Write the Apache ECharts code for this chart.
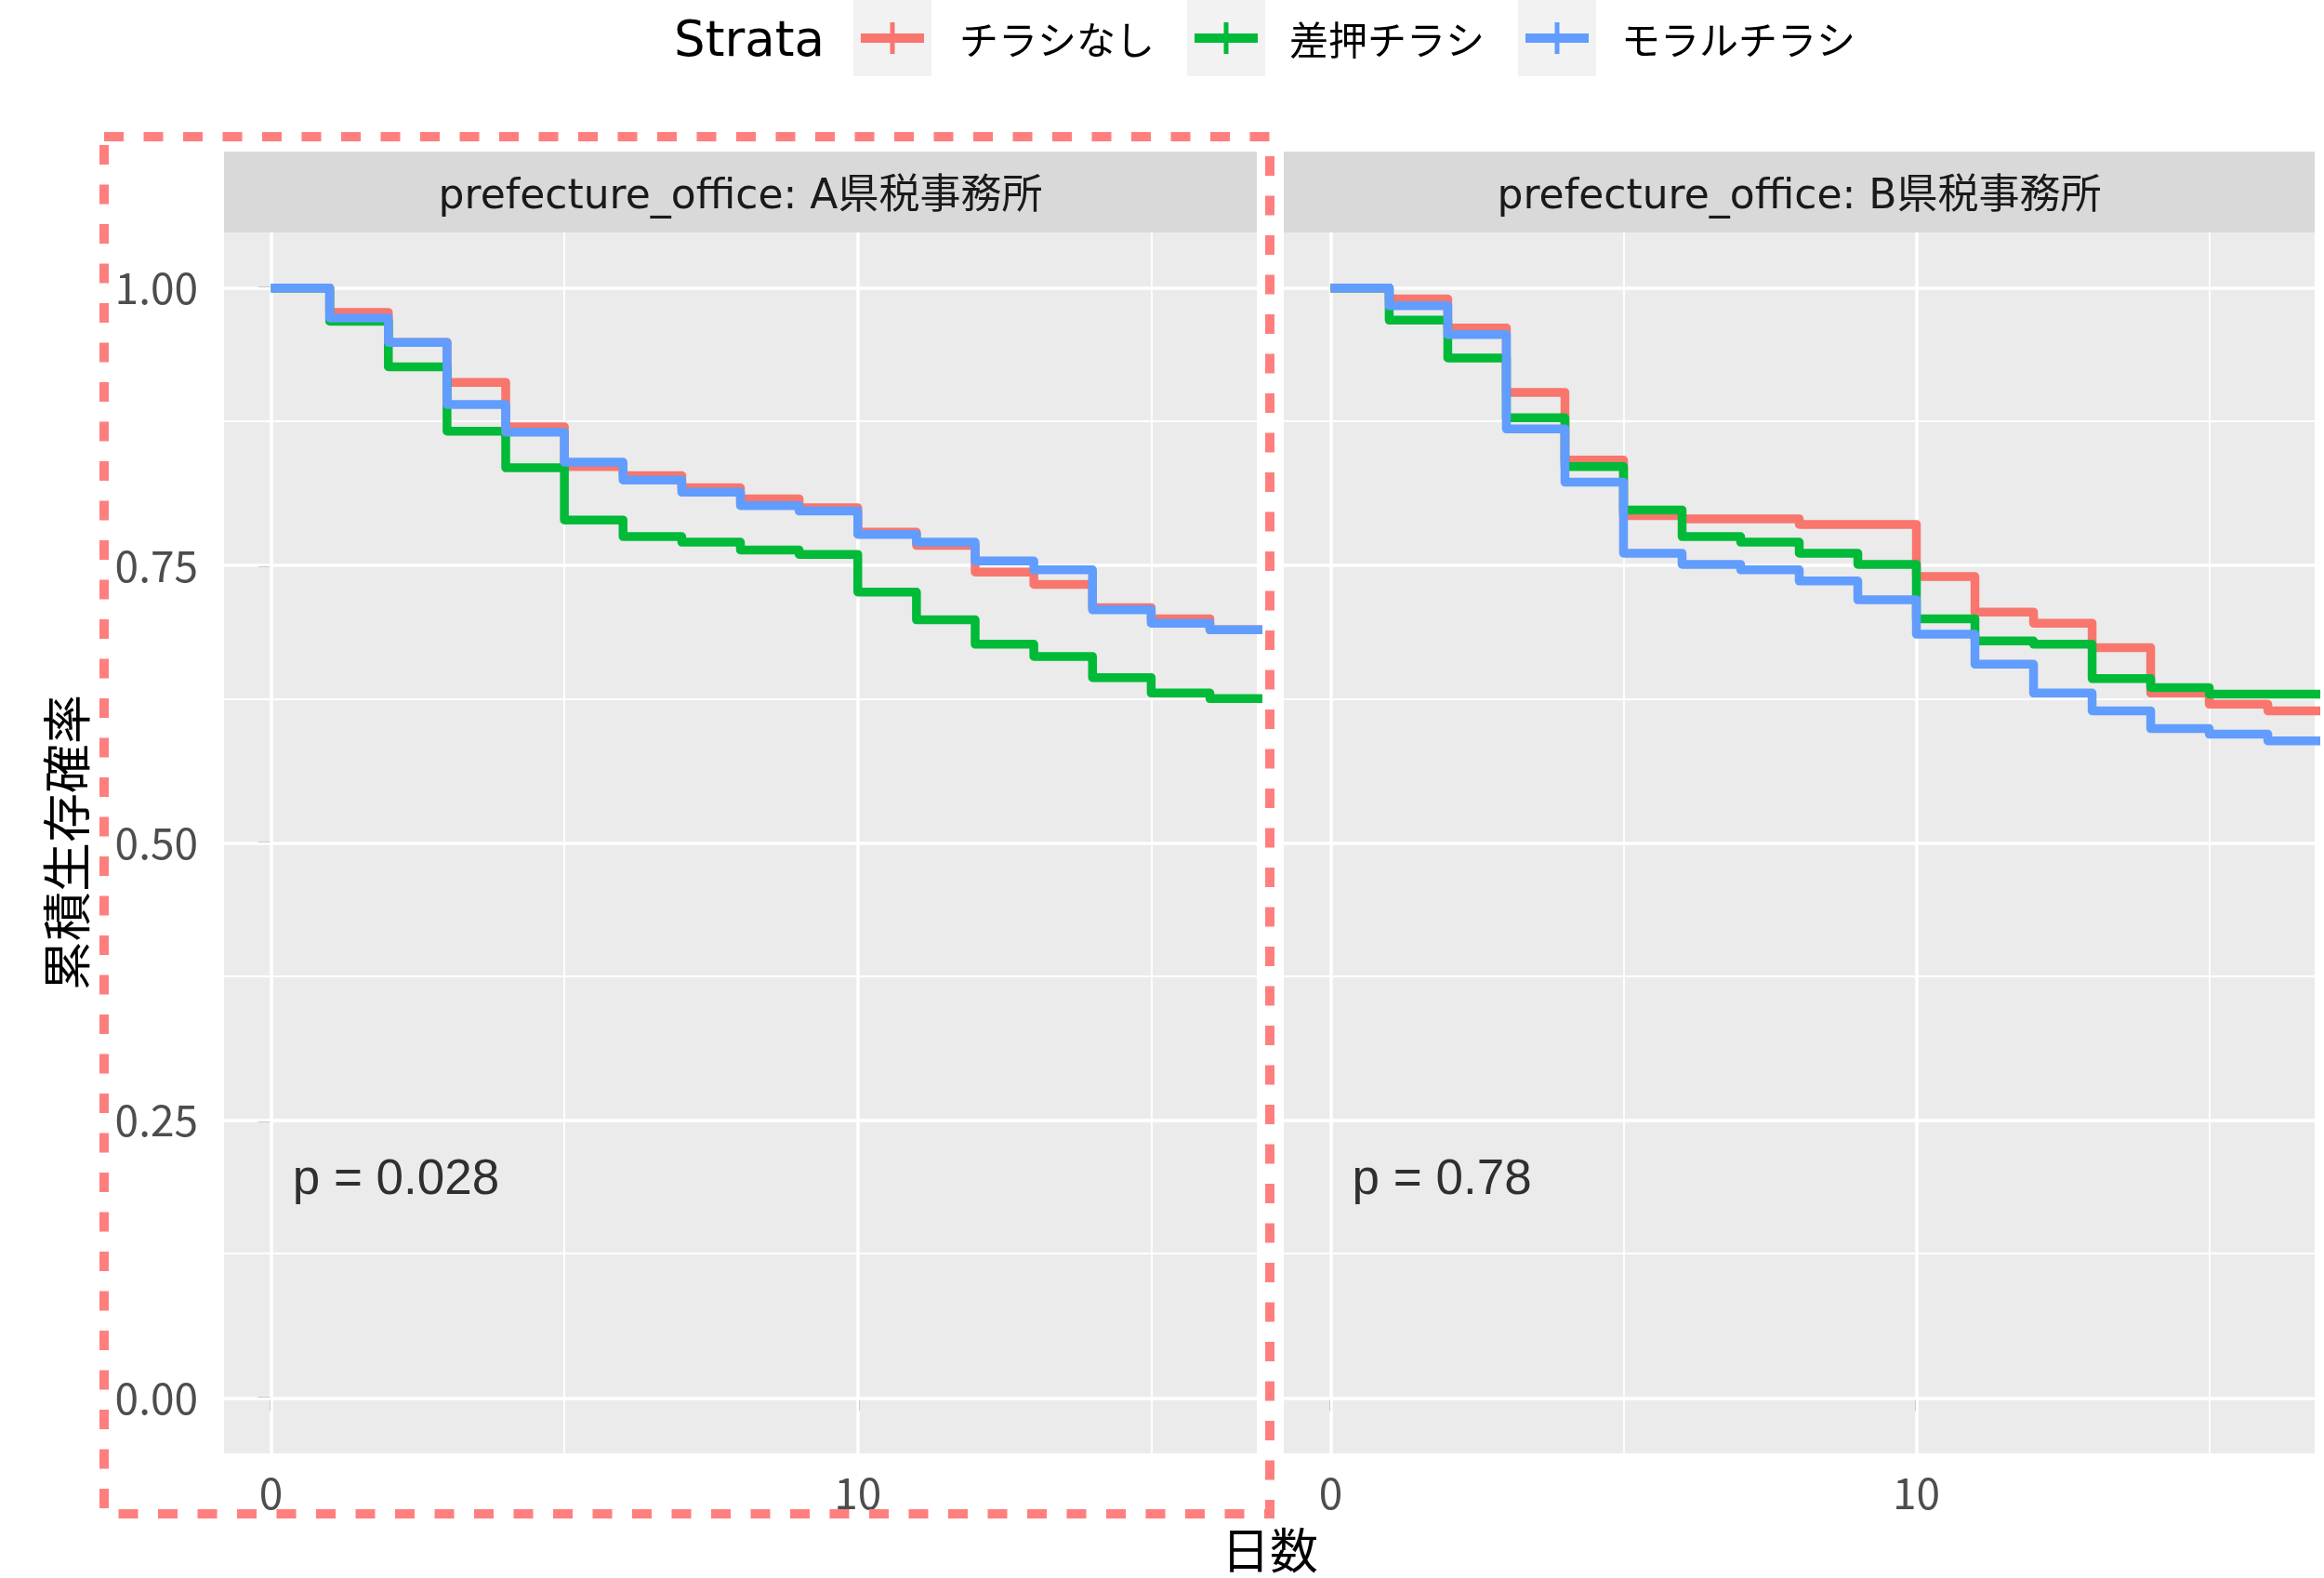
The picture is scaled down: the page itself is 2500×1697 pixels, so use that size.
<!DOCTYPE html>
<html>
<head>
<meta charset="utf-8">
<script src="https://cdn.jsdelivr.net/npm/echarts@6/dist/echarts.min.js"></script>
<style>
  html, body { margin: 0; padding: 0; background: #fff; }
  #chart { width: 2500px; height: 1697px; }
</style>
</head>
<body>
<div id="chart"></div>
<script>
// data
const days = [0, 1, 2, 3, 4, 5, 6, 7, 8, 9, 10, 11, 12, 13, 14, 15, 16, 17];
const strataNames = ['チラシなし', '差押チラシ', 'モラルチラシ'];
const strataColors = ['#F8766D', '#00BA38', '#619CFF'];
const panelTitles = ['prefecture_office: A県税事務所', 'prefecture_office: B県税事務所'];
const pValues = ['p = 0.028', 'p = 0.78'];

// A県税事務所
const survA_none  = [1.00, 0.978, 0.951, 0.915, 0.875, 0.839, 0.831, 0.820, 0.810, 0.802, 0.780, 0.768, 0.744, 0.733, 0.712, 0.702, 0.692, 0.671];
const survA_sashi = [1.00, 0.970, 0.929, 0.871, 0.838, 0.791, 0.776, 0.771, 0.764, 0.760, 0.726, 0.701, 0.679, 0.668, 0.649, 0.635, 0.630, 0.614];
const survA_moral = [1.00, 0.973, 0.951, 0.895, 0.870, 0.843, 0.827, 0.816, 0.804, 0.799, 0.778, 0.771, 0.754, 0.746, 0.710, 0.698, 0.692, 0.671];
// B県税事務所
const survB_none  = [1.00, 0.990, 0.964, 0.906, 0.845, 0.795, 0.792, 0.792, 0.787, 0.787, 0.740, 0.708, 0.698, 0.676, 0.635, 0.625, 0.619, 0.612];
const survB_sashi = [1.00, 0.971, 0.937, 0.883, 0.839, 0.800, 0.776, 0.771, 0.761, 0.751, 0.702, 0.682, 0.679, 0.648, 0.640, 0.634, 0.634, 0.604];
const survB_moral = [1.00, 0.984, 0.958, 0.873, 0.825, 0.761, 0.751, 0.746, 0.736, 0.719, 0.688, 0.661, 0.635, 0.619, 0.603, 0.598, 0.592, 0.587];

const xTicks = [0, 10];
const xMinor = [5, 15];
const yTicks = [0, 0.25, 0.5, 0.75, 1];
const yMinor = [0.125, 0.375, 0.625, 0.875];
const pValuePos = [0.36, 0.2];

const panels = [
  [survA_none, survA_sashi, survA_moral],
  [survB_none, survB_sashi, survB_moral]
];

// layout
const grids = [
  { left: 241, top: 250, width: 1111, height: 1313 },
  { left: 1381, top: 250, width: 1109, height: 1313 }
];
const JP = 'Noto Sans CJK JP';
const MIX = '"DejaVu Sans", "Noto Sans CJK JP"';
const stripTop = 163;
const stripHeight = 87;
const keyCenters = [960, 1319, 1675];
const labelLefts = [1032, 1387, 1744];

const chart = echarts.init(document.getElementById('chart'));

function gridLineSeries(idx) {
  const major = { color: '#FFFFFF', width: 3.5, type: 'solid' };
  const minor = { color: '#FFFFFF', width: 1.8, type: 'solid' };
  return {
    type: 'line',
    xAxisIndex: idx,
    yAxisIndex: idx,
    data: [],
    z: 1,
    silent: true,
    markLine: {
      z: 1,
      symbol: ['none', 'none'],
      silent: true,
      animation: false,
      label: { show: false },
      emphasis: { disabled: true },
      data: [
        ...xMinor.map(v => ({ xAxis: v, lineStyle: minor })),
        ...yMinor.map(v => ({ yAxis: v, lineStyle: minor })),
        ...xTicks.map(v => ({ xAxis: v, lineStyle: major })),
        ...yTicks.map(v => ({ yAxis: v, lineStyle: major }))
      ]
    }
  };
}

const series = [];
panels.forEach((curves, p) => {
  series.push(gridLineSeries(p));
  curves.forEach((vals, i) => {
    series.push({
      name: strataNames[i],
      type: 'line',
      xAxisIndex: p,
      yAxisIndex: p,
      step: 'end',
      showSymbol: false,
      z: 3,
      clip: true,
      data: days.map((d, k) => [d, vals[k]]),
      lineStyle: { color: strataColors[i], width: 9.5, join: 'round' },
      itemStyle: { color: strataColors[i] }
    });
  });
  series.push({
    type: 'scatter',
    xAxisIndex: p,
    yAxisIndex: p,
    symbolSize: 1,
    z: 4,
    itemStyle: { color: 'transparent' },
    data: [pValuePos],
    label: {
      show: true,
      position: 'right',
      distance: 0,
      offset: [0, 5],
      formatter: pValues[p],
      color: '#000000',
      fontSize: 53,
      fontFamily: 'Liberation Sans'
    }
  });
});

const graphic = [];
// facet strips
grids.forEach((g, p) => {
  graphic.push({
    type: 'rect',
    shape: { x: g.left, y: stripTop, width: g.width, height: stripHeight },
    style: { fill: '#D9D9D9' },
    z: 5
  });
  graphic.push({
    type: 'text',
    x: g.left + g.width / 2,
    y: stripTop + stripHeight / 2 + 6,
    style: {
      text: panelTitles[p],
      font: '44px ' + MIX,
      fill: '#1A1A1A',
      align: 'center',
      verticalAlign: 'middle'
    },
    z: 6
  });
});

// legend
graphic.push({
  type: 'text',
  x: 725,
  y: 46,
  style: { text: 'Strata', font: '53px ' + MIX, fill: '#000', align: 'left', verticalAlign: 'middle' }
});
strataNames.forEach((name, i) => {
  const cx = keyCenters[i];
  graphic.push({ type: 'rect', shape: { x: cx - 42, y: 0, width: 84, height: 82 }, style: { fill: '#F2F2F2' } });
  graphic.push({ type: 'rect', shape: { x: cx - 34, y: 36, width: 68, height: 10 }, style: { fill: strataColors[i] }, z: 2 });
  graphic.push({ type: 'rect', shape: { x: cx - 2.5, y: 24, width: 5, height: 34 }, style: { fill: strataColors[i] }, z: 2 });
  graphic.push({
    type: 'text',
    x: labelLefts[i],
    y: 43,
    style: { text: name, font: '42px "' + JP + '"', fill: '#000', align: 'left', verticalAlign: 'middle' }
  });
});

// axis titles
graphic.push({
  type: 'text',
  x: 72,
  y: 906,
  rotation: Math.PI / 2,
  style: { text: '累積生存確率', font: '53px "' + JP + '"', fill: '#000', align: 'center', verticalAlign: 'middle' }
});
graphic.push({
  type: 'text',
  x: 1366,
  y: 1667,
  style: { text: '日数', font: '52px "' + JP + '"', fill: '#000', align: 'center', verticalAlign: 'middle' }
});

// dashed highlight box round panel A
graphic.push({
  type: 'rect',
  shape: { x: 112, y: 147, width: 1254, height: 1481 },
  style: { fill: 'none', stroke: '#FF7F7F', lineWidth: 10, lineDash: [21, 21.5] },
  z: 100
});

const tickStyle = { show: true, length: 14, lineStyle: { color: '#333333', width: 3 } };
const labelStyle = { color: '#4D4D4D', fontSize: 46, fontFamily: JP };

chart.setOption({
  animation: false,
  backgroundColor: '#FFFFFF',
  grid: grids.map(g => ({
    left: g.left, top: g.top, width: g.width, height: g.height,
    show: true, backgroundColor: '#EBEBEB', borderWidth: 0
  })),
  xAxis: grids.map((g, p) => ({
    type: 'value',
    gridIndex: p,
    min: -0.8,
    max: 16.8,
    axisLine: { show: false },
    splitLine: { show: false },
    axisTick: Object.assign({ customValues: xTicks }, tickStyle),
    axisLabel: Object.assign({ customValues: xTicks, margin: 20 }, labelStyle)
  })),
  yAxis: grids.map((g, p) => ({
    type: 'value',
    gridIndex: p,
    min: -0.05,
    max: 1.05,
    axisLine: { show: false },
    splitLine: { show: false },
    axisTick: p === 0 ? Object.assign({ customValues: yTicks }, tickStyle) : { show: false },
    axisLabel: p === 0
      ? Object.assign({ customValues: yTicks, margin: 28, formatter: v => v.toFixed(2) }, labelStyle)
      : { show: false }
  })),
  series: series,
  graphic: graphic
});
</script>
</body>
</html>
